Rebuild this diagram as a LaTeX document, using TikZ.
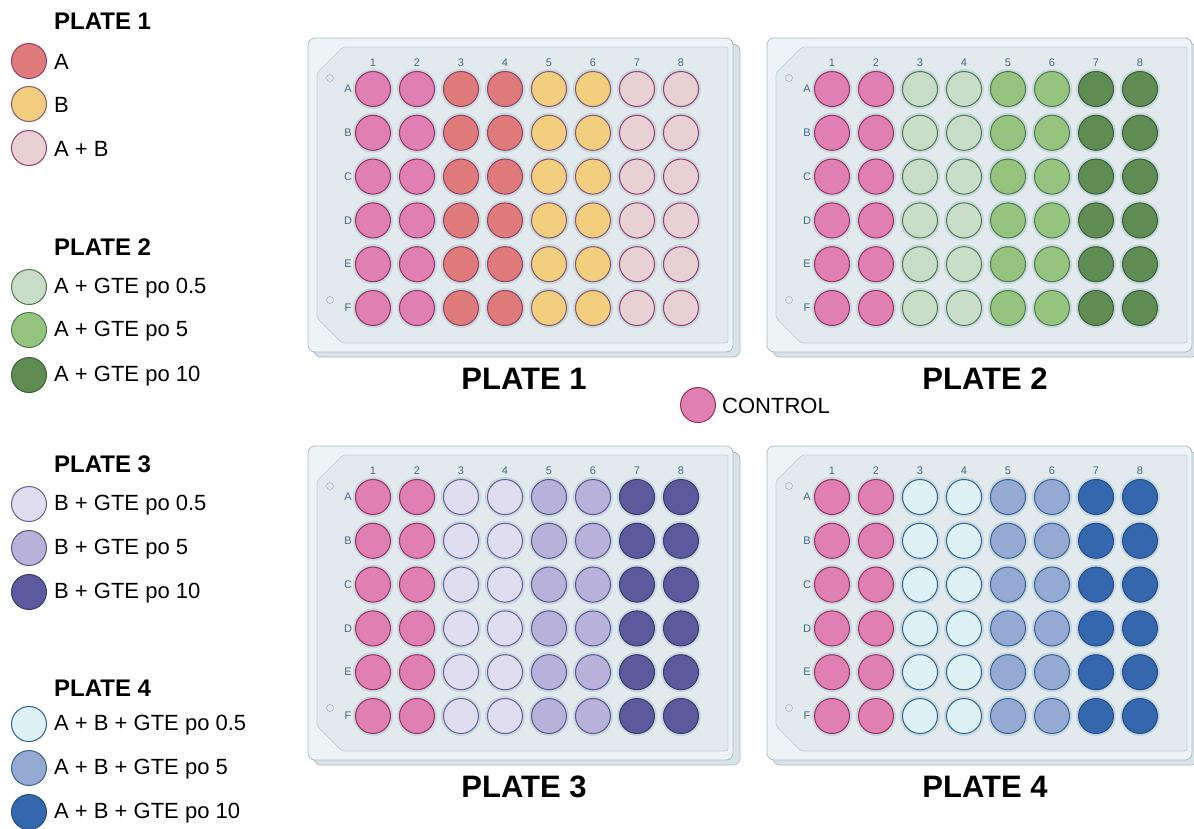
\documentclass[tikz,border=0pt]{standalone}
\usepackage{fontspec}
\setmainfont{Liberation Sans}
\definecolor{ctrlF}{HTML}{E07FB2}\definecolor{ctrlD}{HTML}{9B2F62}
\definecolor{aF}{HTML}{E07B7B}\definecolor{aD}{HTML}{9A3C62}
\definecolor{bF}{HTML}{F2CF7E}\definecolor{bD}{HTML}{8E5468}
\definecolor{abF}{HTML}{E8D1D2}\definecolor{abD}{HTML}{9A3C6E}
\definecolor{gaF}{HTML}{C9DCC8}\definecolor{gaD}{HTML}{4F7A4C}
\definecolor{gbF}{HTML}{94C47E}\definecolor{gbD}{HTML}{4F7A4C}
\definecolor{gcF}{HTML}{5E8C52}\definecolor{gcD}{HTML}{3A5F33}
\definecolor{vaF}{HTML}{E1DDF0}\definecolor{vaD}{HTML}{6A5C98}
\definecolor{vbF}{HTML}{B8B1D9}\definecolor{vbD}{HTML}{5E5290}
\definecolor{vcF}{HTML}{5C5A9C}\definecolor{vcD}{HTML}{3A386E}
\definecolor{uaF}{HTML}{DEF1F5}\definecolor{uaD}{HTML}{2F6190}
\definecolor{ubF}{HTML}{94AAD3}\definecolor{ubD}{HTML}{3A5F98}
\definecolor{ucF}{HTML}{3567AE}\definecolor{ucD}{HTML}{244C88}
\definecolor{halo}{HTML}{C6D8DF}
\definecolor{plateedge}{HTML}{A9BDC5}
\definecolor{plateback}{HTML}{D9E4E8}
\definecolor{platefront}{HTML}{EEF3F5}
\definecolor{plateinner}{HTML}{E3EAED}
\definecolor{innerline}{HTML}{C3D2D8}
\definecolor{lab}{HTML}{46688A}
\tikzset{
  well/.style n args={2}{circle, minimum size=35pt, inner sep=0pt, line width=1pt,
    fill=#1, draw=#2, preaction={draw=halo, line width=5pt}},
  lwell/.style n args={2}{circle, minimum size=35pt, inner sep=0pt, line width=1pt,
    fill=#1, draw=#2},
  collab/.style={font=\fontsize{11}{12}\selectfont, text=lab, inner sep=0pt},
  rowlab/.style={font=\fontsize{11}{12}\selectfont, text=lab, inner sep=0pt},
  legtitle/.style={font=\fontsize{24}{26}\selectfont\bfseries, anchor=west, inner sep=0pt},
  legtext/.style={font=\fontsize{22}{24}\selectfont, anchor=west, inner sep=0pt},
  bigtitle/.style={font=\fontsize{31}{33}\selectfont\bfseries, inner sep=0pt},
}
\newcommand\drawplate[6]{%
\begin{scope}[shift={(#2,#3)}]
  \draw[plateedge, fill=plateback, rounded corners=7pt, line width=0.8pt] (314,44) rectangle (740,357);
  \draw[plateedge, fill=platefront, rounded corners=7pt, line width=0.8pt] (308,38) rectangle (733,352);
  \draw[innerline, fill=plateinner, line width=0.8pt, rounded corners=2pt]
     (343,47) -- (728,47) -- (728,343) -- (342,343) -- (317,318) -- (317,73) -- cycle;
  \draw[plateedge, line width=0.7pt] (330,78) circle (3.5);
  \draw[plateedge, line width=0.7pt] (330,300) circle (3.5);
  \foreach \i in {1,...,8} \node[collab] (#1-col\i) at ({373+44*(\i-1)},63) {\i};
  \foreach \r [count=\j] in {A,B,C,D,E,F} {
    \node[rowlab] (#1-row\r) at (348,{89+43.8*(\j-1)}) {\r};
    \foreach \i in {1,...,8} {
      \pgfmathtruncatemacro\g{(\i-1)/2}
      \ifcase\g \def\wc{ctrl}\or\def\wc{#4}\or\def\wc{#5}\or\def\wc{#6}\fi
      \edef\wellfill{\wc F}\edef\welldraw{\wc D}
      \node[well={\wellfill}{\welldraw}] (#1-\r\i) at ({373+44*(\i-1)},{89+43.8*(\j-1)}) {};
    }
  }
\end{scope}}
\begin{document}
\begin{tikzpicture}[x=1pt,y=-1pt]
\useasboundingbox (0,0) rectangle (1194,828);
\clip (0,0) rectangle (1194,828);
\fill[white] (0,0) rectangle (1194,828);
\drawplate{p1}{0}{0}{a}{b}{ab}
\drawplate{p2}{459}{0}{ga}{gb}{gc}
\drawplate{p3}{0}{408}{va}{vb}{vc}
\drawplate{p4}{459}{408}{ua}{ub}{uc}
% titles
\node[bigtitle] (t1) at (524,379) {PLATE 1};
\node[bigtitle] (t2) at (985,379) {PLATE 2};
\node[bigtitle] (t3) at (524,787) {PLATE 3};
\node[bigtitle] (t4) at (985,787) {PLATE 4};
% control
\node[lwell={ctrlF}{ctrlD}] (ctrl) at (698,405) {};
\node[legtext] (ctrltxt) at (722,406) {CONTROL};
% legend
\node[legtitle] (l1) at (54,21) {PLATE 1};
\node[lwell={aF}{aD}] (l1a) at (29,61) {};   \node[legtext] at (54,62) {A};
\node[lwell={bF}{bD}] (l1b) at (29,104) {};  \node[legtext] at (54,105) {B};
\node[lwell={abF}{abD}] (l1c) at (29,148) {};\node[legtext] at (54,149) {A + B};
\node[legtitle] (l2) at (54,247) {PLATE 2};
\node[lwell={gaF}{gaD}] (l2a) at (29,287) {}; \node[legtext] at (54,288) {A + GTE po 0.5};
\node[lwell={gbF}{gbD}] (l2b) at (29,330) {}; \node[legtext] at (54,331) {A + GTE po 5};
\node[lwell={gcF}{gcD}] (l2c) at (29,375) {}; \node[legtext] at (54,376) {A + GTE po 10};
\node[legtitle] (l3) at (54,464) {PLATE 3};
\node[lwell={vaF}{vaD}] (l3a) at (29,504) {}; \node[legtext] at (54,505) {B + GTE po 0.5};
\node[lwell={vbF}{vbD}] (l3b) at (29,548) {}; \node[legtext] at (54,549) {B + GTE po 5};
\node[lwell={vcF}{vcD}] (l3c) at (29,592) {}; \node[legtext] at (54,593) {B + GTE po 10};
\node[legtitle] (l4) at (54,688) {PLATE 4};
\node[lwell={uaF}{uaD}] (l4a) at (29,724) {}; \node[legtext] at (54,725) {A + B + GTE po 0.5};
\node[lwell={ubF}{ubD}] (l4b) at (29,768) {}; \node[legtext] at (54,769) {A + B + GTE po 5};
\node[lwell={ucF}{ucD}] (l4c) at (29,812) {}; \node[legtext] at (54,813) {A + B + GTE po 10};
\end{tikzpicture}
\end{document}
